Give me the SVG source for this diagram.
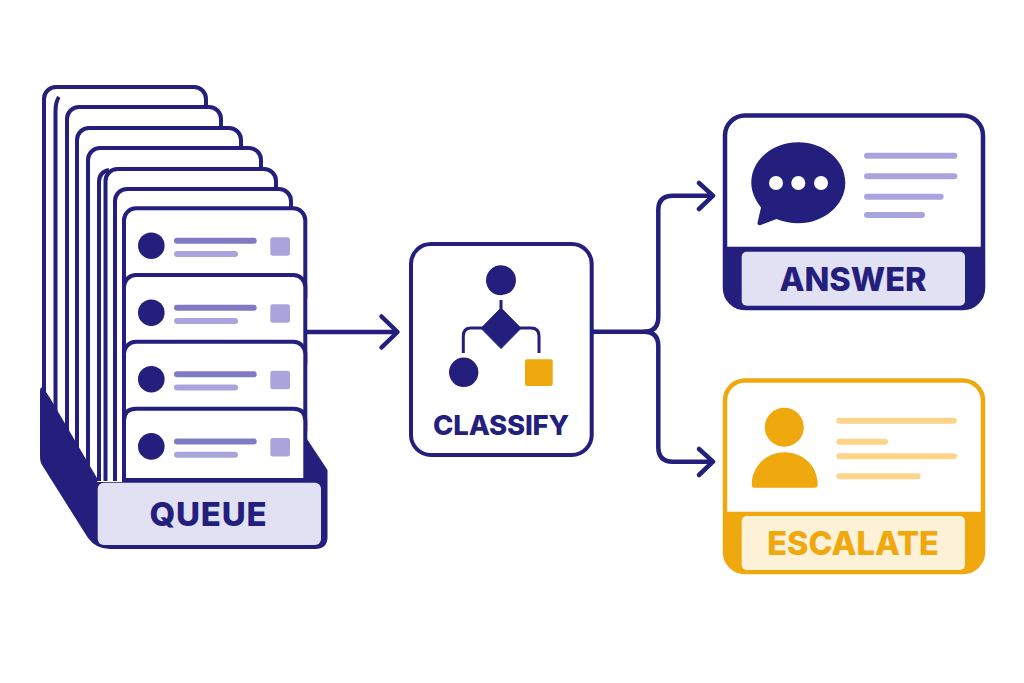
<svg xmlns="http://www.w3.org/2000/svg" width="1024" height="683" viewBox="0 0 1024 683">
<style>
.card{fill:#fff;stroke:#241f7d;stroke-width:4}
.ln{fill:none;stroke:#241f7d;stroke-width:4}
.navy{fill:#241f7d}
.org{fill:#f0a80f}
.l1{fill:#7f7ac2}
.l2,.sq{fill:#a9a5dc}
.l3{fill:#fcd48a}
.conn{fill:none;stroke:#241f7d;stroke-width:4.5;stroke-linecap:round;stroke-linejoin:round}
text{font-family:Inter,"Liberation Sans",sans-serif;font-weight:800;text-anchor:middle}
</style>
<defs>
<clipPath id="stack"><path d="M0 0H340V481H97L40 385Z"/></clipPath>
<g id="row">
<circle cx="151.3" cy="245.7" r="13.3" class="navy"/>
<rect x="174" y="237.7" width="82.7" height="6" rx="3" class="l1"/>
<rect x="174" y="251" width="64" height="6" rx="3" class="l2"/>
<rect x="270.3" y="237.3" width="19.7" height="18.4" rx="2.5" class="sq"/>
</g>
</defs>
<rect width="1024" height="683" fill="#fff"/>
<g id="connectors">
<path class="conn" d="M306 332H397M381.500 316.500L397.500 332L381.500 347.500"/>
<path class="conn" d="M592 331.700H644Q658.300 331.700 658.300 317V210Q658.300 195.700 673 195.700H712M699 183L713 195.700L699 209"/>
<path class="conn" d="M644 331.700Q658.300 331.700 658.300 346V447Q658.300 461.700 673 461.700H712M699 449L713 461.700L699 475"/>
</g>
<g id="queue">
<g clip-path="url(#stack)">
<rect class="card" x="44" y="87" width="162" height="420" rx="12"/>
<path class="ln" d="M55.500 480V112Q55.500 101 59 97"/>
<rect class="card" x="67" y="107" width="154" height="400" rx="12"/>
<rect class="card" x="77" y="128" width="164" height="380" rx="12"/>
<rect class="card" x="88" y="148" width="173" height="360" rx="12"/>
<path class="ln" d="M99 490V182Q99 172 109 170"/>
<rect class="card" x="105.500" y="169" width="170.500" height="340" rx="12"/>
<rect class="card" x="115" y="189" width="176" height="320" rx="12"/>
</g>
<path class="navy" d="M40 392Q40 385 44 389L50 398L97 478V482H305V436L327.500 470V537Q327.500 549 315 549H110Q96 549 88 538L42 465Q40 462 40 456Z"/>
<rect class="card" x="124" y="208.300" width="181.300" height="100" rx="12"/>
<use href="#row"/>
<rect class="card" x="124" y="275" width="181.300" height="100" rx="12"/>
<use href="#row" y="67"/>
<rect class="card" x="124" y="341.700" width="181.300" height="100" rx="12"/>
<use href="#row" y="133.500"/>
<path class="card" d="M124 480V420.700Q124 408.700 136 408.700H293.300Q305.300 408.700 305.300 420.700V480Z"/>
<use href="#row" y="200.700"/>
<rect x="97.700" y="482.700" width="223.300" height="62.300" rx="6" fill="#e2e1f3"/>
<text x="208.500" y="526" font-size="33" letter-spacing="0.8" class="navy">QUEUE</text>
</g>
<g id="classify">
<rect x="411" y="244" width="180.700" height="211" rx="20" fill="#fff" stroke="#241f7d" stroke-width="4"/>
<circle cx="501" cy="280.300" r="15" class="navy"/>
<path fill="none" stroke="#241f7d" stroke-width="3" d="M501 300V312M483 328H471Q463.300 328 463.300 336V353M519 328H531Q539 328 539 336V353"/>
<path class="navy" d="M501 308L521 328.300L501 348.600L481 328.300Z" stroke="#241f7d" stroke-width="1" stroke-linejoin="round"/>
<circle cx="463.700" cy="372.300" r="14.700" class="navy"/>
<rect x="525" y="359.300" width="27.700" height="26.700" rx="2" class="org"/>
<text x="501" y="435" font-size="27.500" letter-spacing="-0.2" class="navy">CLASSIFY</text>
</g>
<g id="answer">
<rect x="725" y="115.500" width="258" height="192.500" rx="20" fill="#fff" stroke="#241f7d" stroke-width="4.500"/>
<path class="navy" d="M725 246.700H983V288Q983 308 963 308H745Q725 308 725 288Z"/>
<rect x="741.700" y="251.700" width="223.300" height="54" rx="5" fill="#e2e1f3"/>
<text x="853" y="291" font-size="32.500" class="navy">ANSWER</text>
<path class="navy" d="M798.300 142.200C824 142.200 845.300 160 845.300 182.700C845.300 205 824 223.200 798.300 223.200C790 223.200 783 221.500 776.500 219L760 225.300Q756.500 225.500 757.800 221.500L761 207.500C755.500 200.500 751.300 192 751.300 182.700C751.300 160 772.500 142.200 798.300 142.200Z"/>
<circle cx="776" cy="183" r="7" fill="#fff"/><circle cx="798.300" cy="183" r="7" fill="#fff"/><circle cx="821" cy="183" r="7" fill="#fff"/>
<rect x="864" y="152.700" width="93.300" height="6" rx="3" class="l2"/>
<rect x="864" y="173.300" width="93.300" height="6" rx="3" class="l2"/>
<rect x="864" y="193.700" width="79.700" height="6" rx="3" class="l2"/>
<rect x="864" y="212" width="61" height="6" rx="3" class="l2"/>
</g>
<g id="escalate">
<rect x="725" y="380.500" width="258" height="191.500" rx="20" fill="#fff" stroke="#f0a80f" stroke-width="4.500"/>
<path class="org" d="M725 511.700H983V552Q983 572 963 572H745Q725 572 725 552Z"/>
<rect x="741.700" y="516" width="223.300" height="54" rx="5" fill="#fdf1d8"/>
<text x="853" y="555.300" font-size="32.500" class="org">ESCALATE</text>
<circle cx="784.300" cy="427.300" r="19.500" class="org"/>
<path class="org" d="M784.700 452.300C803 452.300 817.700 466 817.700 484.700Q817.700 487.700 814.700 487.700H754.700Q751.700 487.700 751.700 484.700C751.700 466 766.500 452.300 784.700 452.300Z"/>
<rect x="836.300" y="417.700" width="120.700" height="6" rx="3" class="l3"/>
<rect x="836.300" y="438.700" width="51.700" height="6" rx="3" class="l3"/>
<rect x="836.300" y="453.300" width="120.700" height="6" rx="3" class="l3"/>
<rect x="836.300" y="473.300" width="84.400" height="6" rx="3" class="l3"/>
</g>
</svg>
